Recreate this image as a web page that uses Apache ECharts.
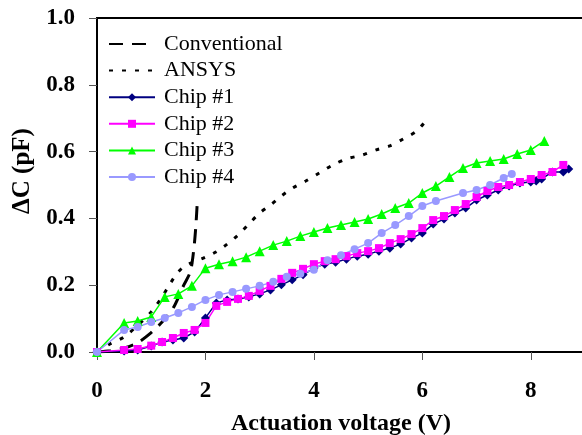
<!DOCTYPE html>
<html>
<head>
<meta charset="utf-8">
<script src="https://cdn.jsdelivr.net/npm/echarts@6/dist/echarts.min.js"></script>
<style>
  html,body{margin:0;padding:0;background:#fff;}
  #chart{width:582px;height:435px;}
</style>
</head>
<body>
<div id="chart"></div>
<script>
// data: [voltage (V), dC (pF)]
const conventional = [[0,0],[0.25,0.004],[0.5,0.012],[0.75,0.028],[1.0,0.058],[1.2,0.09],[1.4,0.13],[1.6,0.2],[1.72,0.24],[1.78,0.3],[1.82,0.37],[1.85,0.45]];
const ansys = [[0,0],[0.25,0.025],[0.5,0.045],[0.75,0.08],[1.0,0.12],[1.2,0.165],[1.35,0.205],[1.5,0.24],[1.65,0.26],[2.0,0.284],[2.2,0.3],[2.4,0.323],[2.6,0.35],[2.8,0.383],[3.0,0.416],[3.2,0.44],[3.4,0.467],[3.6,0.49],[3.85,0.512],[4.1,0.536],[4.35,0.56],[4.6,0.578],[4.9,0.59],[5.15,0.605],[5.4,0.617],[5.65,0.638],[5.9,0.662],[6.1,0.7]];
const chip1 = [[0,0],[0.5,0.003],[0.75,0.006],[1.0,0.018],[1.2,0.03],[1.4,0.036],[1.6,0.042],[1.8,0.06],[2.0,0.102],[2.2,0.147],[2.4,0.156],[2.6,0.159],[2.8,0.165],[3.0,0.174],[3.2,0.186],[3.4,0.201],[3.6,0.216],[3.8,0.231],[4.0,0.251],[4.2,0.263],[4.4,0.269],[4.6,0.278],[4.8,0.287],[5.0,0.293],[5.2,0.302],[5.4,0.311],[5.6,0.323],[5.8,0.341],[6.0,0.356],[6.2,0.383],[6.4,0.398],[6.6,0.416],[6.8,0.431],[7.0,0.455],[7.2,0.47],[7.4,0.485],[7.6,0.497],[7.8,0.506],[8.0,0.509],[8.1,0.512],[8.2,0.518],[8.4,0.539],[8.6,0.539],[8.7,0.548]];
const chip2 = [[0,0],[0.5,0.006],[0.75,0.009],[1.0,0.019],[1.2,0.03],[1.4,0.042],[1.6,0.057],[1.8,0.066],[2.0,0.087],[2.2,0.138],[2.4,0.15],[2.6,0.159],[2.8,0.168],[3.0,0.183],[3.2,0.198],[3.4,0.219],[3.6,0.237],[3.8,0.249],[4.0,0.263],[4.2,0.272],[4.4,0.278],[4.6,0.287],[4.8,0.296],[5.0,0.302],[5.2,0.311],[5.4,0.326],[5.6,0.338],[5.8,0.353],[6.0,0.371],[6.2,0.395],[6.4,0.407],[6.6,0.425],[6.8,0.443],[7.0,0.464],[7.2,0.482],[7.4,0.494],[7.6,0.5],[7.8,0.509],[8.0,0.518],[8.2,0.53],[8.4,0.539],[8.6,0.56]];
const chip3 = [[0,0],[0.5,0.087],[0.75,0.093],[1.0,0.105],[1.25,0.165],[1.5,0.174],[1.75,0.198],[2.0,0.251],[2.25,0.263],[2.5,0.272],[2.75,0.284],[3.0,0.302],[3.25,0.32],[3.5,0.332],[3.75,0.347],[4.0,0.359],[4.25,0.371],[4.5,0.38],[4.75,0.389],[5.0,0.398],[5.25,0.413],[5.5,0.431],[5.75,0.446],[6.0,0.476],[6.25,0.497],[6.5,0.524],[6.75,0.551],[7.0,0.566],[7.25,0.572],[7.5,0.578],[7.75,0.593],[8.0,0.605],[8.25,0.632]];
const chip4 = [[0,0],[0.5,0.066],[0.75,0.075],[1.0,0.09],[1.25,0.102],[1.5,0.117],[1.75,0.135],[2.0,0.156],[2.25,0.171],[2.5,0.18],[2.75,0.189],[3.0,0.198],[3.25,0.21],[3.5,0.225],[3.75,0.234],[4.0,0.246],[4.25,0.275],[4.5,0.29],[4.75,0.308],[5.0,0.326],[5.25,0.356],[5.5,0.38],[5.75,0.407],[6.0,0.437],[6.25,0.452],[6.75,0.476],[7.0,0.485],[7.25,0.5],[7.5,0.521],[7.65,0.533]];

const serif = 'Liberation Serif';

const chart = echarts.init(document.getElementById('chart'));

const chipSeries = (name, data, color, symbol, size) => ({
  name: name,
  type: 'line',
  data: data,
  symbol: symbol,
  symbolSize: size,
  lineStyle: { color: color, width: 1.5 },
  itemStyle: { color: color },
  z: 3
});

chart.setOption({
  animation: false,
  grid: { left: 97, right: -3, top: 18, bottom: 83, outerBoundsMode: 'none', show: true, borderColor: '#000', borderWidth: 2 },
  legend: {
    orient: 'vertical',
    left: 103,
    top: 28,
    itemWidth: 46,
    itemHeight: 10,
    itemGap: 4.6,
    textStyle: { fontFamily: serif, fontSize: 22, lineHeight: 22, color: '#000', padding: [0, 0, 0, 4] },
    data: [
      { name: 'Conventional', itemStyle: { opacity: 0 } },
      { name: 'ANSYS', itemStyle: { opacity: 0 } },
      'Chip #1', 'Chip #2', 'Chip #3', 'Chip #4'
    ]
  },
  xAxis: {
    type: 'value',
    min: 0,
    max: 9,
    interval: 2,
    splitLine: { show: false },
    axisLine: { onZero: false, lineStyle: { color: '#000', width: 2 } },
    axisTick: { show: true, length: 8, lineStyle: { color: '#555', width: 1 } },
    axisLabel: { showMaxLabel: false, fontFamily: serif, fontSize: 23, fontWeight: 'bold', color: '#000', margin: 28 },
    name: 'Actuation voltage (V)',
    nameLocation: 'middle',
    nameGap: 60,
    nameTextStyle: { fontFamily: serif, fontSize: 24, fontWeight: 'bold', color: '#000' }
  },
  yAxis: {
    type: 'value',
    min: 0,
    max: 1,
    interval: 0.2,
    splitLine: { show: false },
    axisLine: { lineStyle: { color: '#000', width: 2 } },
    axisTick: { show: true, length: 8, lineStyle: { color: '#555', width: 1 } },
    axisLabel: { formatter: v => v.toFixed(1), fontFamily: serif, fontSize: 23, fontWeight: 'bold', color: '#000', margin: 22 },
    name: 'ΔC (pF)',
    nameLocation: 'middle',
    nameGap: 51,
    nameTextStyle: { fontFamily: serif, fontSize: 25, fontWeight: 'bold', color: '#000', padding: [0, 0, 0, 28] }
  },
  series: [
    {
      name: 'Conventional',
      type: 'line',
      data: conventional,
      symbol: 'none',
      smooth: 0.3,
      lineStyle: { color: '#000', width: 3, type: [14, 9] },
      itemStyle: { color: '#000' },
      z: 2
    },
    {
      name: 'ANSYS',
      type: 'line',
      data: ansys,
      symbol: 'none',
      smooth: 0.3,
      lineStyle: { color: '#000', width: 3, type: [4, 9] },
      itemStyle: { color: '#000' },
      z: 2
    },
    chipSeries('Chip #1', chip1, '#000080', 'diamond', 9),
    chipSeries('Chip #2', chip2, '#FF00FF', 'rect', 8),
    chipSeries('Chip #3', chip3, '#00FF00', 'triangle', 10),
    chipSeries('Chip #4', chip4, '#9999FF', 'circle', 8)
  ]
});
</script>
</body>
</html>
